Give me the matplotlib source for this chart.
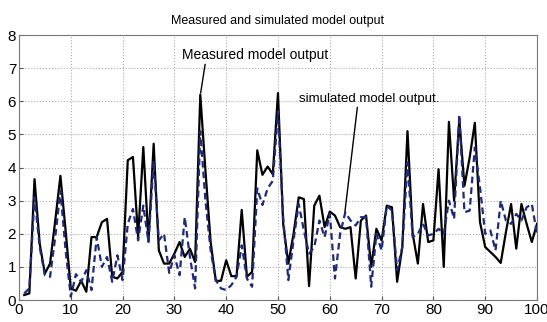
import matplotlib
matplotlib.use("Agg")
import matplotlib.pyplot as plt
import numpy as np

plt.rcParams['font.family'] = ['Liberation Sans', 'DejaVu Sans']

samples = list(range(1, 101))
measured = [0.15, 0.2, 3.65, 1.7, 0.8, 1.1, 2.4, 3.75, 2.1, 0.35,
            0.28, 0.58, 0.25, 1.9, 1.9, 2.35, 2.45, 0.7, 0.65, 0.85,
            4.22, 4.32, 1.9, 4.62, 1.78, 4.72, 1.5, 1.1, 1.1, 1.4,
            1.75, 1.3, 1.55, 1.15, 6.2, 3.9, 1.75, 0.58, 0.58, 1.2,
            0.72, 0.72, 2.72, 0.7, 0.85, 4.52, 3.78, 4.03, 3.8, 6.25,
            2.3, 1.1, 2.0, 3.1, 3.05, 0.42, 2.85, 3.15, 2.2, 2.67,
            2.55, 2.2, 2.15, 2.2, 0.65, 2.4, 2.55, 1.0, 2.15, 1.8,
            2.85, 2.8, 0.55, 1.6, 5.1, 2.0, 1.1, 2.9, 1.75, 1.8,
            3.95, 1.0, 5.38, 3.0, 5.45, 3.45, 4.3, 5.35, 2.35, 1.6,
            1.45, 1.3, 1.12, 2.05, 2.9, 1.55, 2.9, 2.3, 1.75, 2.3]
simulated = [0.2, 0.35, 3.1, 1.6, 0.75, 0.7, 1.9, 3.3, 1.5, 0.1,
             0.78, 0.55, 0.9, 0.3, 1.9, 1.0, 1.3, 0.55, 1.35, 0.6,
             2.3, 2.75, 1.8, 2.85, 1.75, 4.2, 1.8, 2.0, 0.82, 1.35,
             0.75, 2.5, 1.3, 0.35, 5.1, 3.0, 1.5, 0.6, 0.35, 0.3,
             0.45, 0.7, 1.65, 0.65, 0.4, 3.37, 2.87, 3.37, 3.6, 5.7,
             2.5, 0.6, 1.8, 2.9, 2.1, 1.4, 1.6, 2.4, 1.9, 2.6,
             0.65, 2.0, 2.65, 2.4, 2.25, 2.5, 2.5, 0.4, 2.0, 1.5,
             2.85, 2.7, 0.9, 1.6, 4.15, 1.9, 2.0, 2.3, 1.95, 2.0,
             2.15, 2.0, 3.0, 2.45, 5.6, 2.65, 2.7, 4.6, 3.4, 2.0,
             2.1, 1.5, 3.0, 2.4, 2.3, 2.6, 2.4, 2.8, 2.9, 2.0]
xticks = [0, 10, 20, 30, 40, 50, 60, 70, 80, 90, 100]
yticks = [0, 1, 2, 3, 4, 5, 6, 7, 8]

fig = plt.figure(figsize=(5.47, 3.22), dpi=100)
ax = fig.add_axes([0.0347, 0.0683, 0.9470, 0.8227])

ax.plot(samples, measured, color='black', lw=1.6, zorder=3)
ax.plot(samples, simulated, color='#1f2a78', lw=1.6, ls=(0, (3, 1.8)), zorder=4)

ax.set_xlim(0, 100)
ax.set_ylim(0, 8)
ax.set_xticks(xticks)
ax.set_yticks(yticks)
ax.tick_params(direction='in', labelsize=11, length=3, color='#555555', pad=2)
ax.grid(True, ls=':', color='#aaaaaa', lw=0.8)
for s in ax.spines.values():
    s.set_color('#777777')

ax.set_title('Measured and simulated model output', fontsize=9, pad=8)

ax.annotate('Measured model output', xy=(35.07, 6.25), xytext=(31.5, 7.2),
            fontsize=10, ha='left', va='bottom',
            arrowprops=dict(arrowstyle='-', color='black', lw=1.0,
                            shrinkA=0, shrinkB=0, relpos=(0.16, 0.0)))
ax.annotate('simulated model output.', xy=(62.9, 2.63), xytext=(54, 5.9),
            fontsize=9.5, ha='left', va='bottom',
            arrowprops=dict(arrowstyle='-', color='black', lw=1.0,
                            shrinkA=0, shrinkB=0, relpos=(0.42, 0.0)))

fig.savefig('out.png', dpi=100)
